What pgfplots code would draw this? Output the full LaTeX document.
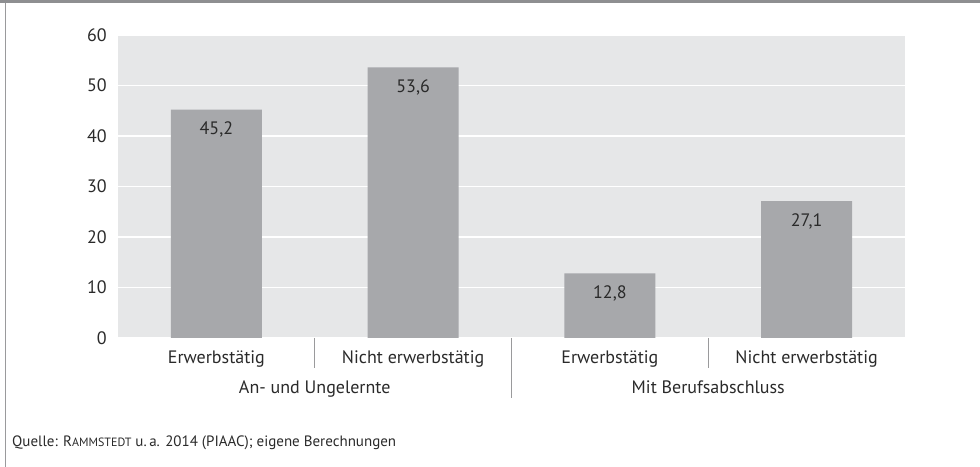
\documentclass[border=0pt]{standalone}
\usepackage{pgfplots}
\pgfplotsset{compat=1.18}
\usepackage{fontspec}
\setmainfont{PT Sans}
\definecolor{bargray}{HTML}{A7A8AB}
\definecolor{bggray}{HTML}{E6E7E8}
\definecolor{framegray}{HTML}{8E8F91}
\definecolor{sepgray}{HTML}{9A9A9C}
\definecolor{txt}{HTML}{2A2A2A}
\begin{document}
\begin{tikzpicture}[font=\fontsize{18bp}{21bp}\selectfont, text=txt]
\path[use as bounding box] (0,0) rectangle (980bp,467bp);
\fill[framegray] (0,464bp) rectangle (980bp,467bp);
\draw[sepgray, line width=1.5bp] (5.5bp,0) -- (5.5bp,464bp);
\begin{axis}[
  at={(118bp,129bp)}, anchor=south west,
  scale only axis, width=787bp, height=303bp,
  xmin=-0.5, xmax=3.5, ymin=0, ymax=60,
  ytick={0,10,...,60},
  xtick={0,1,2,3},
  xticklabels={Erwerbstätig, Nicht erwerbstätig, Erwerbstätig, Nicht erwerbstätig},
  major tick length=0pt,
  axis line style={draw=none},
  axis background/.style={fill=bggray},
  ymajorgrids, grid style={white, line width=1.2bp},
  yticklabel style={anchor=east, inner sep=0pt, xshift=-11bp, text=txt},
  xticklabel style={anchor=base, inner sep=0pt, yshift=-26bp, text=txt},
  /pgf/number format/assume math mode=true,
  clip=false,
]
\addplot[ybar, bar width=91bp, fill=bargray, draw=none,
  nodes near coords,
  nodes near coords style={anchor=base, inner sep=0pt, yshift=-25bp, text=txt,
    /pgf/number format/.cd, fixed, fixed zerofill, precision=1, use comma, assume math mode=true},
] coordinates {(0,45.2) (1,53.6) (2,12.8) (3,27.1)};
\draw[sepgray, line width=1bp] (axis cs:0.5,0) -- ([yshift=-30bp]axis cs:0.5,0);
\draw[sepgray, line width=1bp] (axis cs:1.5,0) -- ([yshift=-60bp]axis cs:1.5,0);
\draw[sepgray, line width=1bp] (axis cs:2.5,0) -- ([yshift=-30bp]axis cs:2.5,0);
\node[anchor=base, inner sep=0pt] at ([yshift=-55bp]axis cs:0.5,0) {An- und Ungelernte};
\node[anchor=base, inner sep=0pt] at ([yshift=-55bp]axis cs:2.5,0) {Mit Berufsabschluss};
\end{axis}
\node[anchor=base west, inner sep=0pt, font=\fontsize{15bp}{18bp}\selectfont] at (12bp,20.3bp)
  {Quelle: R{\fontsize{12bp}{14bp}\selectfont AMMSTEDT} u.\,a. 2014 (PIAAC); eigene Berechnungen};
\end{tikzpicture}
\end{document}
